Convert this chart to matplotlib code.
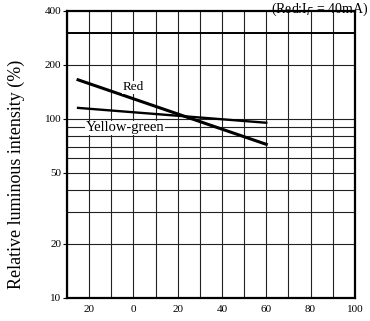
import matplotlib.pyplot as plt
from matplotlib.ticker import FixedLocator, NullLocator, FixedFormatter

# data
temp = [-25, 60]                 # ambient temperature
red = [165, 72]                  # relative luminous intensity (%)
yellow_green = [115, 95]

x_ticks = [-20, 0, 20, 40, 60, 80, 100]
x_labels = ["20", "0", "20", "40", "60", "80", "100"]
y_ticks = [10, 20, 50, 100, 200, 400]
y_labels = ["10", "20", "50", "100", "200", "400"]
x_grid = list(range(-30, 101, 10))
y_grid = [20, 30, 40, 50, 60, 70, 80, 90, 100, 200]

plt.rcParams['font.family'] = ['Liberation Serif', 'DejaVu Serif']

fig = plt.figure(figsize=(3.7, 3.21), dpi=100)
ax = fig.add_axes([0.181, 0.072, 0.778, 0.894])

ax.set_yscale('log')
ax.set_xlim(-30, 100)
ax.set_ylim(10, 400)

# grid drawn by hand so it matches the printed sheet
for gx in x_grid:
    ax.axvline(gx, color='#222222', lw=0.8, zorder=1)
for gy in y_grid:
    ax.axhline(gy, color='#222222', lw=0.8, zorder=1)
ax.axhline(300, color='black', lw=1.4, zorder=1)

ax.plot(temp, red, color='black', lw=2.2, zorder=3)
ax.plot(temp, yellow_green, color='black', lw=1.7, zorder=3)

ax.text(-5, 150, "Red", fontsize=9.5, ha='left', va='center', zorder=4,
        bbox=dict(facecolor='white', edgecolor='none', pad=0.5))
ax.text(-21.5, 89, "Yellow-green", fontsize=10.5, ha='left', va='center', zorder=4,
        bbox=dict(facecolor='white', edgecolor='none', pad=0.5))

ax.xaxis.set_major_locator(FixedLocator(x_ticks))
ax.xaxis.set_major_formatter(FixedFormatter(x_labels))
ax.xaxis.set_minor_locator(NullLocator())
ax.yaxis.set_major_locator(FixedLocator(y_ticks))
ax.yaxis.set_major_formatter(FixedFormatter(y_labels))
ax.yaxis.set_minor_locator(NullLocator())
ax.tick_params(axis='x', length=0, labelsize=8, pad=5)
ax.tick_params(axis='y', length=3, width=0.8, direction='out', labelsize=8, pad=1)

for s in ax.spines.values():
    s.set_linewidth(1.6)
    s.set_zorder(5)

ax.set_ylabel("Relative luminous intensity (%)", fontsize=13)
ax.yaxis.set_label_coords(-0.145, 0.43)

fig.text(0.995, 0.998, "(Red:I$_F$ = 40mA)", fontsize=10,
         ha='right', va='top')

plt.savefig('out.png', dpi=100)
